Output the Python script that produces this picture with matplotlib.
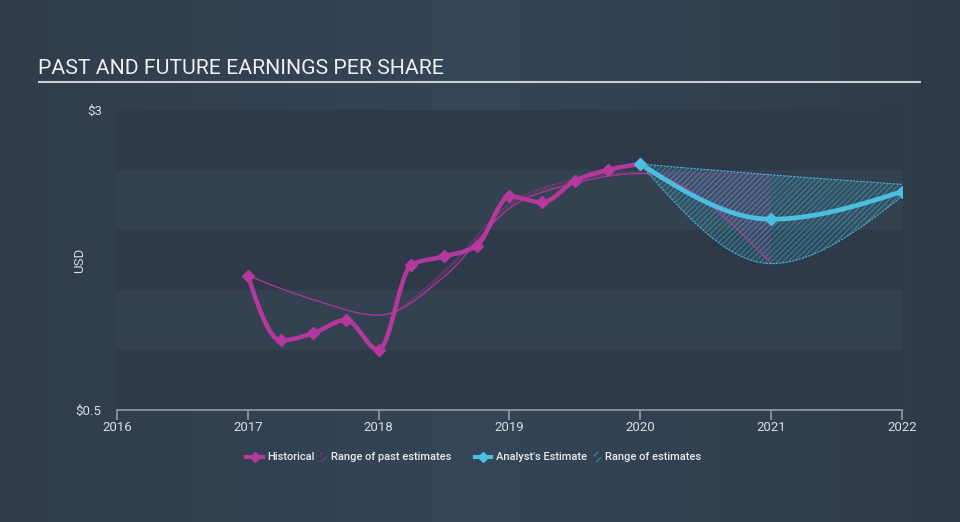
import numpy as np
import matplotlib.pyplot as plt
from matplotlib.lines import Line2D
from matplotlib.patches import Rectangle

plt.rcParams['font.family'] = ['Roboto', 'DejaVu Sans']
plt.rcParams['hatch.linewidth'] = 0.6

# Historical EPS (quarterly)
hist_x = [2017.0, 2017.25, 2017.5, 2017.75, 2018.0, 2018.25, 2018.5, 2018.75,
          2019.0, 2019.25, 2019.5, 2019.75, 2020.0]
hist_eps = [1.62, 1.08, 1.14, 1.25, 1.00, 1.71, 1.78, 1.87,
            2.28, 2.23, 2.41, 2.50, 2.55]

# Range of past estimates
past_x = [2017.0, 2017.5, 2018.0, 2018.5, 2019.0, 2019.5, 2020.0, 2021.0]
past_low = [1.62, 1.42, 1.29, 1.61, 2.18, 2.39, 2.47, 1.72]
past_high = [1.62, 1.42, 1.29, 1.66, 2.22, 2.42, 2.48, 2.46]

# Analyst estimates
est_x = [2020.0, 2021.0, 2022.0]
est_eps = [2.55, 2.09, 2.32]
est_low = [2.55, 1.72, 2.28]
est_high = [2.55, 2.46, 2.38]

x_ticks = [2016, 2017, 2018, 2019, 2020, 2021, 2022]
y_ticks = [0.5, 3.0]
y_tick_labels = ['$0.5', '$3']

MAGENTA = '#b5389c'
CYAN = '#4bbfe2'
TEXT = '#d9dde2'


def smooth(x, y, n=40):
    # monotone cubic curve through the points (like d3 curveMonotoneX)
    x = np.asarray(x, float)
    y = np.asarray(y, float)
    h = np.diff(x)
    s = np.diff(y) / h
    m = np.zeros_like(y)
    if len(x) == 2:
        m[:] = s[0]
    else:
        for i in range(1, len(x) - 1):
            p = (s[i - 1] * h[i] + s[i] * h[i - 1]) / (h[i - 1] + h[i])
            m[i] = (np.sign(s[i - 1]) + np.sign(s[i])) * min(abs(s[i - 1]), abs(s[i]), 0.5 * abs(p))
        m[0] = (3 * s[0] - m[1]) / 2
        m[-1] = (3 * s[-1] - m[-2]) / 2
    xs, ys = [], []
    t = np.linspace(0, 1, n)
    for i in range(len(h)):
        h00 = 2 * t**3 - 3 * t**2 + 1
        h10 = t**3 - 2 * t**2 + t
        h01 = -2 * t**3 + 3 * t**2
        h11 = t**3 - t**2
        xs.append(x[i] + t * h[i])
        ys.append(h00 * y[i] + h10 * h[i] * m[i] + h01 * y[i + 1] + h11 * h[i] * m[i + 1])
    return np.concatenate(xs), np.concatenate(ys)


fig = plt.figure(figsize=(9.6, 5.22), dpi=100)

# background gradient + overlay in pixel coordinates
bg = fig.add_axes([0, 0, 1, 1])
bg.set_xlim(0, 960)
bg.set_ylim(522, 0)
bg.axis('off')
c_left = np.array([0x30, 0x3c, 0x4a]) / 255
c_mid = np.array([0x35, 0x46, 0x58]) / 255
c_right = np.array([0x2f, 0x3a, 0x47]) / 255
u = np.linspace(0, 1, 200)[:, None]
grad = np.where(u < 0.5, c_left + (c_mid - c_left) * (u / 0.5),
                c_mid + (c_right - c_mid) * ((u - 0.5) / 0.5))
bg.imshow(grad[None, :, :], extent=[0, 960, 522, 0], aspect='auto', zorder=0)

bg.text(38, 69, 'PAST AND FUTURE EARNINGS PER SHARE', color='#eef0f2',
        fontsize=15.3, va='center', ha='left')
bg.plot([38, 921], [82, 82], color='#c9ced4', lw=1.5, solid_capstyle='butt')
bg.text(80, 260, 'USD', color=TEXT, fontsize=9.5, rotation=90, ha='center', va='center')

# legend
ly = 457
bg.add_line(Line2D([246, 263], [ly, ly], color=MAGENTA, lw=3))
bg.add_line(Line2D([254.5], [ly], marker='D', color=MAGENTA, markersize=5.5))
bg.text(267, ly, 'Historical', color='#e8eaed', fontsize=8, fontweight='medium', va='center')
bg.add_patch(Rectangle((320, ly - 5), 7, 10, facecolor='none', edgecolor=MAGENTA,
                       hatch='////', lw=0, alpha=0.8))
bg.text(331, ly, 'Range of past estimates', color='#e8eaed', fontsize=8,
        fontweight='medium', va='center')
bg.add_line(Line2D([475, 491], [ly, ly], color=CYAN, lw=3))
bg.add_line(Line2D([482.5], [ly], marker='D', color=CYAN, markersize=5.5))
bg.text(496, ly, "Analyst's Estimate", color='#e8eaed', fontsize=8, fontweight='medium', va='center')
bg.add_patch(Rectangle((594, ly - 5), 7, 10, facecolor='none', edgecolor=CYAN,
                       hatch='////', lw=0, alpha=0.8))
bg.text(605, ly, 'Range of estimates', color='#e8eaed', fontsize=8,
        fontweight='medium', va='center')

# main axes
ax = fig.add_axes([117 / 960, 1 - 410 / 522, 785 / 960, 300 / 522])
ax.patch.set_alpha(0)
ax.set_xlim(2016, 2022)
ax.set_ylim(0.5, 3.0)

band_edges = np.arange(0.5, 3.01, 0.5)
for i in range(len(band_edges) - 1):
    col = '#2e3a49' if i % 2 == 0 else '#334150'
    ax.axhspan(band_edges[i], band_edges[i + 1], color=col, lw=0, zorder=0)

# range of past estimates
px, plo = smooth(past_x, past_low)
_, phi = smooth(past_x, past_high)
ax.fill_between(px, plo, phi, facecolor=MAGENTA, alpha=0.13, lw=0, zorder=1)
ax.fill_between(px, plo, phi, facecolor='none', edgecolor=MAGENTA, hatch='//////',
                lw=0, alpha=0.35, zorder=1)
ax.plot(px, plo, color=MAGENTA, lw=0.9, alpha=0.9, zorder=2)
ax.plot(px, phi, color=MAGENTA, lw=0.7, alpha=0.6, ls=(0, (2, 1)), zorder=2)

# range of estimates
ex, elo = smooth(est_x, est_low)
_, ehi = smooth(est_x, est_high)
ax.fill_between(ex, elo, ehi, facecolor=CYAN, alpha=0.12, lw=0, zorder=1)
ax.fill_between(ex, elo, ehi, facecolor='none', edgecolor=CYAN, hatch='//////',
                lw=0, alpha=0.55, zorder=1)
ax.plot(ex, elo, color=CYAN, lw=0.8, ls=(0, (2, 1)), alpha=0.9, zorder=2)
ax.plot(ex, ehi, color=CYAN, lw=0.8, ls=(0, (2, 1)), alpha=0.9, zorder=2)

# historical line
hx, hy = smooth(hist_x, hist_eps)
ax.plot(hx, hy, color=MAGENTA, lw=3.2, solid_capstyle='round', zorder=3)
ax.plot(hist_x, hist_eps, 'D', color=MAGENTA, markersize=6.5, zorder=4)

# analyst estimate line
ax_, ay_ = smooth(est_x, est_eps)
ax.plot(ax_, ay_, color=CYAN, lw=3.4, solid_capstyle='round', zorder=3)
ax.plot(est_x, est_eps, 'D', color=CYAN, markersize=6.5, zorder=4)

for side in ['top', 'right', 'left']:
    ax.spines[side].set_visible(False)
ax.spines['bottom'].set_color('#8d9db0')
ax.spines['bottom'].set_linewidth(1.2)
ax.set_xticks(x_ticks)
ax.set_xticklabels([str(t) for t in x_ticks])
ax.tick_params(axis='x', colors='#8d9db0', labelcolor=TEXT, length=7, width=1.2,
               labelsize=9.5, pad=1)
ax.set_yticks(y_ticks)
ax.set_yticklabels(y_tick_labels)
ax.tick_params(axis='y', length=0, labelcolor=TEXT, labelsize=9.5, pad=11)

fig.savefig('out.png', dpi=100)
